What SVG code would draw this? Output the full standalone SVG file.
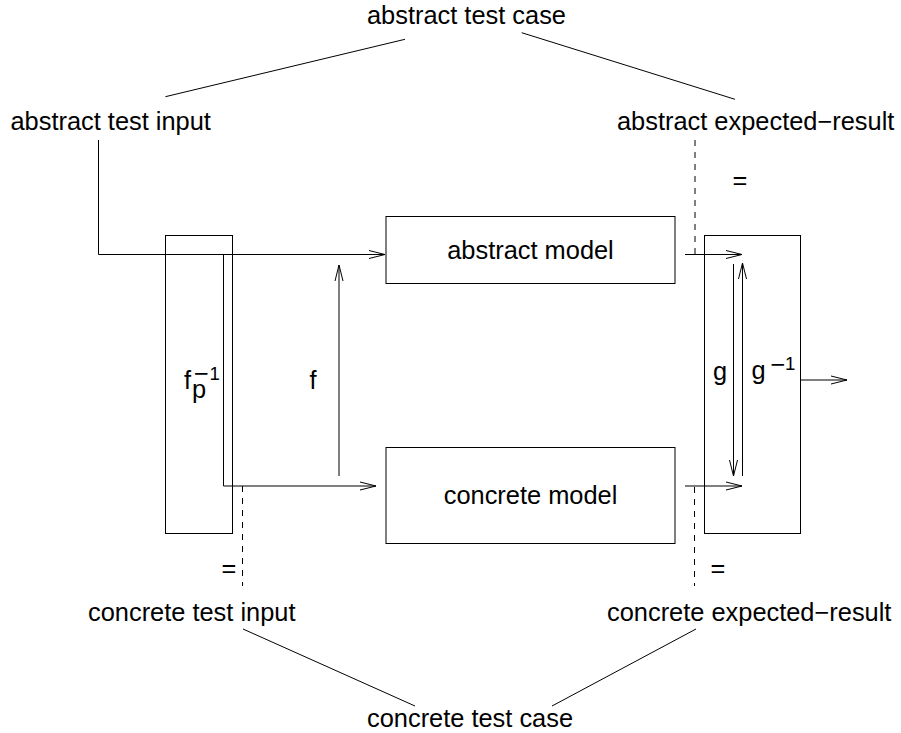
<svg xmlns="http://www.w3.org/2000/svg" width="901" height="733" viewBox="0 0 901 733">
<style>
text{font-family:"Liberation Sans",Arial,sans-serif;font-size:25.4px;fill:#000}
.ln{stroke:#000;stroke-width:1;fill:none}
.ds{stroke:#000;stroke-width:1;fill:none;stroke-dasharray:6 6}
.box{stroke:#000;stroke-width:1;fill:none}
.ar{stroke:#000;stroke-width:1;fill:none;marker-end:url(#v)}
.sm{font-size:18.6px}
</style>
<defs>
<marker id="v" markerUnits="userSpaceOnUse" markerWidth="18" markerHeight="10" refX="16" refY="4" orient="auto" overflow="visible">
<path d="M0,0 L16,4 L0,8" fill="none" stroke="#000" stroke-width="1"/>
</marker>
</defs>
<rect width="901" height="733" fill="#fff"/>
<g id="abstract-test-case"><text x="367" y="24">abstract test case</text></g>
<g id="abstract-test-input"><text x="10.5" y="129.5">abstract test input</text></g>
<g id="abstract-expected-result"><text x="617" y="129.5">abstract expected−result</text></g>
<g id="concrete-test-input"><text x="88" y="621">concrete test input</text></g>
<g id="concrete-expected-result"><text x="607" y="621">concrete expected−result</text></g>
<g id="concrete-test-case"><text x="367" y="726.5">concrete test case</text></g>
<g id="abstract-model"><rect class="box" x="386" y="216.5" width="289" height="67"/><text x="530.5" y="259" text-anchor="middle">abstract model</text></g>
<g id="concrete-model"><rect class="box" x="386" y="447.5" width="289" height="96"/><text x="530.5" y="504" text-anchor="middle">concrete model</text></g>
<g id="fp-inverse"><rect class="box" x="165.5" y="235.5" width="67" height="298"/><text><tspan x="184" y="389">f</tspan><tspan x="192" y="398">p</tspan><tspan x="194" y="382">−</tspan><tspan class="sm" x="209.5" y="379.5">1</tspan></text></g>
<g id="g-box"><rect class="box" x="704.5" y="235.5" width="96" height="298"/><text x="713" y="380">g</text><text><tspan x="751.5" y="379">g</tspan><tspan x="770.5" y="373">−</tspan><tspan class="sm" x="785" y="370">1</tspan></text></g>
<g id="f-label"><text x="309.5" y="389">f</text></g>
<g id="eq-marks"><text x="732.5" y="189">=</text><text x="221.5" y="577">=</text><text x="710.5" y="577">=</text></g>
<g id="connectors">
<line class="ln" x1="405" y1="39.3" x2="165.4" y2="96.7"/>
<line class="ln" x1="521.7" y1="32.7" x2="735" y2="99.3"/>
<line class="ln" x1="243" y1="629" x2="415" y2="706"/>
<line class="ln" x1="696" y1="629" x2="552" y2="706"/>
<polyline class="ar" points="98.5,140 98.5,254.5 385,254.5"/>
<polyline class="ar" points="223.5,254.5 223.5,486 376,486"/>
<line class="ar" x1="339" y1="476" x2="339" y2="265"/>
<line class="ar" x1="685" y1="254.5" x2="742" y2="254.5"/>
<line class="ar" x1="733.5" y1="264" x2="733.5" y2="476"/>
<line class="ar" x1="742.5" y1="476" x2="742.5" y2="263"/>
<line class="ar" x1="685" y1="486" x2="742" y2="486"/>
<line class="ar" x1="800.5" y1="380" x2="847" y2="380"/>
<line class="ds" x1="695" y1="140" x2="695" y2="254"/>
<line class="ds" x1="242.5" y1="486" x2="242.5" y2="586"/>
<line class="ds" x1="694.5" y1="487" x2="694.5" y2="586"/>
</g>
</svg>
